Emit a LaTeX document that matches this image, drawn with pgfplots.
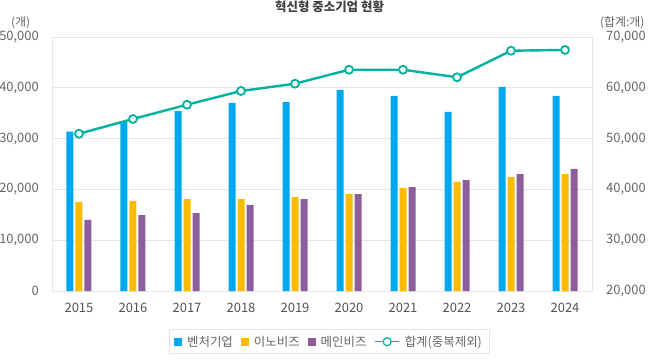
\documentclass[border=0pt]{standalone}
\usepackage{fontspec}
\setmainfont{Noto Sans CJK KR}
\usepackage{pgfplots}
\pgfplotsset{compat=1.18}
\definecolor{cBlue}{HTML}{00A8F0}
\definecolor{cYellow}{HTML}{FABB00}
\definecolor{cPurple}{HTML}{8C5E9C}
\definecolor{cTeal}{HTML}{00B2A0}
\definecolor{cGrid}{HTML}{E6E6E6}
\definecolor{cText}{HTML}{666666}
\definecolor{cTitle}{HTML}{404040}
\begin{document}
\begin{tikzpicture}
\pgfplotsset{
  sq legend/.style={legend image code/.code={\fill[##1] (0bp,-4bp) rectangle (8bp,4bp);}},
}
\begin{axis}[
  name=main, scale only axis,
  width=540bp, height=254bp,
  xmin=-0.5, xmax=9.5, ymin=0, ymax=50000,
  xtick={0,...,9},
  xticklabels={2015,2016,2017,2018,2019,2020,2021,2022,2023,2024},
  ytick={0,10000,20000,30000,40000,50000},
  scaled y ticks=false,
  /pgf/number format/1000 sep={,},
  /pgf/number format/assume math mode=true,
  major tick length=0pt,
  ymajorgrids, grid style={draw=cGrid, line width=0.8bp},
  axis line style={draw=cGrid, line width=0.8bp},
  tick label style={text=cText, font=\fontsize{13}{15}\selectfont},
  yticklabel style={inner sep=0pt, xshift=-13bp},
  xticklabel style={inner sep=0pt, yshift=-12bp, text=cTitle!90},
  ybar=2bp, bar width=7bp,
  title={\bfseries 혁신형 중소기업 현황},
  title style={at={(0.514,1)}, anchor=south, yshift=15bp, font=\fontsize{12.5}{14}\selectfont, text=cTitle},
  legend style={draw=cGrid, line width=0.8bp, font=\fontsize{12.5}{14}\selectfont, text=cText,
    at={(0.513,-0.2)}, anchor=center, inner xsep=5bp, inner ysep=4bp,
    /tikz/every odd column/.append style={column sep=3bp},
    /tikz/every even column/.append style={column sep=6bp}},
  legend columns=4,
  clip=false,
]
\addplot[fill=cBlue, draw=none, sq legend] coordinates {(0,31360)(1,33330)(2,35430)(3,37010)(4,37200)(5,39570)(6,38390)(7,35240)(8,40160)(9,38390)};
\addlegendentry{벤처기업}
\addplot[fill=cYellow, draw=none, sq legend] coordinates {(0,17520)(1,17720)(2,18110)(3,18110)(4,18500)(5,19090)(6,20280)(7,21460)(8,22440)(9,23030)};
\addlegendentry{이노비즈}
\addplot[fill=cPurple, draw=none, sq legend] coordinates {(0,13980)(1,14960)(2,15350)(3,16930)(4,18110)(5,19090)(6,20470)(7,21850)(8,23030)(9,24020)};
\addlegendentry{메인비즈}
\addlegendimage{legend image code/.code={\draw[cTeal, line width=1.2bp] (0bp,0bp) -- (24bp,0bp); \draw[cTeal, fill=white, line width=1.2bp] (12bp,0bp) circle (4bp);}}
\addlegendentry{합계(중복제외)}
\node[text=cText, font=\fontsize{12}{14}\selectfont, anchor=center] at (rel axis cs:-0.058,1) [yshift=14bp] {(개)};
\node[text=cText, font=\fontsize{12}{14}\selectfont, anchor=center] at (rel axis cs:1.056,1) [yshift=14bp] {(합계:개)};
\end{axis}
\begin{axis}[
  at={(main.south west)}, anchor=south west, scale only axis,
  width=540bp, height=254bp,
  xmin=-0.5, xmax=9.5, ymin=20000, ymax=70000,
  hide x axis,
  axis y line*=right,
  ytick={20000,30000,40000,50000,60000,70000},
  scaled y ticks=false,
  /pgf/number format/1000 sep={,},
  /pgf/number format/assume math mode=true,
  major tick length=0pt,
  axis line style={draw=cGrid, line width=0.8bp},
  y axis line style={-},
  tick label style={text=cText, font=\fontsize{13}{15}\selectfont},
  yticklabel style={inner sep=0pt, xshift=14bp},
  clip=false,
]
\addplot[cTeal, line width=2.4bp, mark=*, mark size=4bp, mark options={fill=white, draw=cTeal, line width=1.8bp}] coordinates {(0,50960)(1,53860)(2,56670)(3,59370)(4,60810)(5,63560)(6,63560)(7,62070)(8,67300)(9,67450)};
\end{axis}
\pgfresetboundingbox
\path (main.south west) ++(-52bp,-69bp) rectangle ++(660bp,360bp);
\end{tikzpicture}
\end{document}
